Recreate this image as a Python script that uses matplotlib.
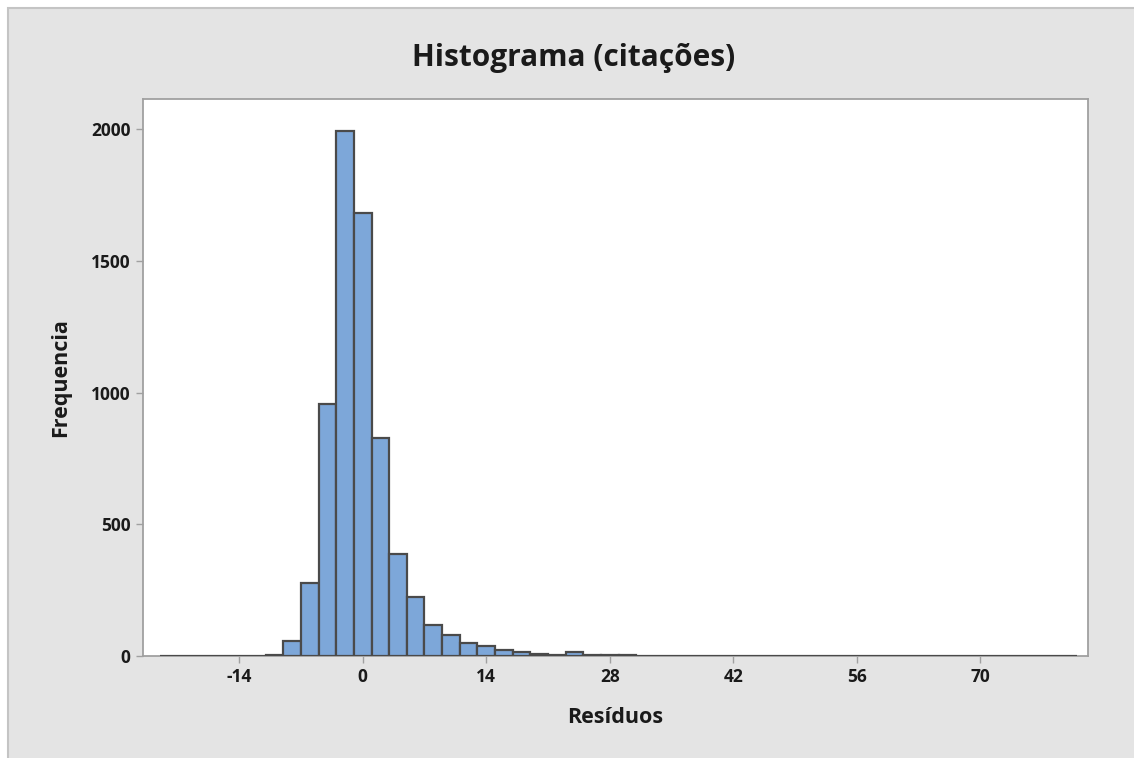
import matplotlib
matplotlib.use("Agg")
import matplotlib.pyplot as plt
from matplotlib.patches import Rectangle

# histogram bins (midpoints, width 2) and counts
bin_mids = list(range(-22, 82, 2))
counts = [0, 0, 0, 0, 0, 0, 5, 58, 277, 956, 1994, 1680, 827, 388, 223,
          119, 81, 50, 37, 22, 14, 6, 5, 15, 5, 4, 4]
counts = counts + [0] * (len(bin_mids) - len(counts))
bin_width = 2

xticks = [-14, 0, 14, 28, 42, 56, 70]
yticks = [0, 500, 1000, 1500, 2000]

plt.rcParams['font.family'] = ['Open Sans', 'DejaVu Sans']
plt.rcParams['axes.unicode_minus'] = False

W, H = 1134, 758
fig = plt.figure(figsize=(W / 100, H / 100), dpi=100)
fig.patch.set_facecolor("white")

# grey Minitab-like frame
fig.patches.append(Rectangle((8 / W, -0.01), 1.0, (H - 8) / H + 0.01,
                             transform=fig.transFigure, facecolor="#e4e4e4",
                             edgecolor="#c4c4c4", linewidth=1.5, zorder=-10))

ax = fig.add_axes([143 / W, 1 - 656 / H, (1088 - 143) / W, (656 - 99) / H])
ax.set_zorder(1)
ax.set_facecolor("white")

ax.bar(bin_mids, counts, width=bin_width, color="#7da7d9",
       edgecolor="#4a4a4a", linewidth=1.6, zorder=3)

ax.set_xlim(-24.9, 82.2)
ax.set_ylim(0, 2114)
ax.set_xticks(xticks)
ax.set_yticks(yticks)
ax.tick_params(axis="both", direction="out", length=5, width=1,
               color="#a0a0a0", labelsize=12.5, pad=4)
for lab in ax.get_xticklabels() + ax.get_yticklabels():
    lab.set_fontweight("bold")
    lab.set_color("#1a1a1a")

for s in ax.spines.values():
    s.set_color("#a0a0a0")
    s.set_linewidth(1.3)

ax.set_xlabel("Resíduos", fontsize=15.5, fontweight="bold", labelpad=15,
              color="#1a1a1a")
ax.set_ylabel("Frequencia", fontsize=15.5, fontweight="bold", labelpad=14,
              color="#1a1a1a")

fig.text(574 / W, 1 - 58 / H, "Histograma (citações)",
         ha="center", va="center", fontsize=21.5, fontweight="bold",
         color="#1a1a1a")

fig.savefig("out.png", dpi=100)
